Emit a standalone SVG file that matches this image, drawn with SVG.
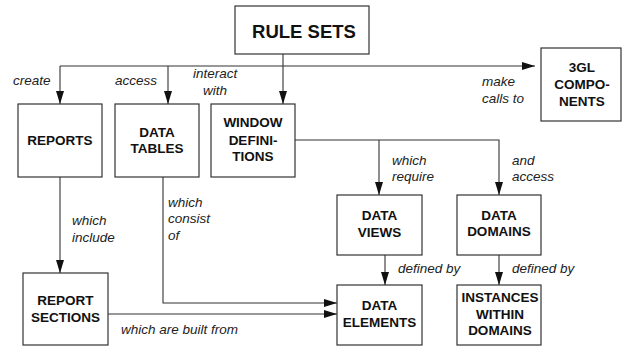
<svg xmlns="http://www.w3.org/2000/svg" width="622" height="348" viewBox="0 0 622 348">
  <defs>
    <marker id="arrow" viewBox="0 0 13 8" markerWidth="13" markerHeight="8" refX="13" refY="4" orient="auto" markerUnits="userSpaceOnUse">
      <path d="M0,0 L13,4 L0,8 z" fill="#111"/>
    </marker>
    <style>
      .box { fill: #fff; stroke: #333; stroke-width: 1.2; }
      .node { font-family: "Liberation Sans", Arial, sans-serif; font-weight: bold; font-size: 13.5px; fill: #111; text-anchor: middle; }
      .title { font-size: 18.5px; }
      .lbl { font-family: "Liberation Sans", Arial, sans-serif; font-style: italic; font-size: 13.5px; fill: #222; }
      .conn { fill: none; stroke: #333; stroke-width: 1.1; }
      .arr { marker-end: url(#arrow); }
    </style>
  </defs>
  <rect width="622" height="348" fill="#fff"/>

  <!-- connectors -->
  <g id="connectors">
    <path class="conn arr" d="M60,66 H535"/>
    <path class="conn arr" d="M60,66 V104"/>
    <path class="conn arr" d="M168,66 V104"/>
    <path class="conn arr" d="M283,54 V104"/>
    <path class="conn arr" d="M295,140 H499 V195"/>
    <path class="conn arr" d="M379,140 V195"/>
    <path class="conn arr" d="M385,255 V285"/>
    <path class="conn arr" d="M499,255 V285"/>
    <path class="conn arr" d="M60,177 V273"/>
    <path class="conn arr" d="M163,177 V303 H337"/>
    <path class="conn arr" d="M108,314 H337"/>
  </g>

  <!-- connector labels -->
  <g id="labels" class="lbl">
    <text x="13" y="85">create</text>
    <text x="115" y="85">access</text>
    <text x="193" y="78">interact</text>
    <text x="203" y="95">with</text>
    <text x="482" y="86">make</text>
    <text x="482" y="103">calls to</text>
    <text x="72" y="225">which</text>
    <text x="72" y="242">include</text>
    <text x="168" y="207">which</text>
    <text x="168" y="223">consist</text>
    <text x="168" y="240">of</text>
    <text x="392" y="165">which</text>
    <text x="392" y="181">require</text>
    <text x="512" y="165">and</text>
    <text x="512" y="181">access</text>
    <text x="398" y="273">defined by</text>
    <text x="512" y="273">defined by</text>
    <text x="121" y="334">which are built from</text>
  </g>

  <!-- nodes -->
  <g id="rule-sets">
    <rect class="box" x="235" y="6" width="134" height="48"/>
    <text class="node title" x="304" y="37.5">RULE SETS</text>
  </g>
  <g id="reports">
    <rect class="box" x="18" y="104" width="84" height="73"/>
    <text class="node" x="60" y="145">REPORTS</text>
  </g>
  <g id="data-tables">
    <rect class="box" x="115" y="104" width="84" height="73"/>
    <text class="node" x="157" y="137">DATA</text>
    <text class="node" x="157" y="153">TABLES</text>
  </g>
  <g id="window-definitions">
    <rect class="box" x="211" y="104" width="84" height="73"/>
    <text class="node" x="253" y="127">WINDOW</text>
    <text class="node" x="253" y="145">DEFINI-</text>
    <text class="node" x="253" y="161">TIONS</text>
  </g>
  <g id="3gl-components">
    <rect class="box" x="541" y="48" width="80" height="73"/>
    <text class="node" x="582" y="72">3GL</text>
    <text class="node" x="582" y="89">COMPO-</text>
    <text class="node" x="582" y="106">NENTS</text>
  </g>
  <g id="data-views">
    <rect class="box" x="337" y="195" width="85" height="60"/>
    <text class="node" x="379.5" y="220">DATA</text>
    <text class="node" x="379.5" y="237">VIEWS</text>
  </g>
  <g id="data-domains">
    <rect class="box" x="457" y="195" width="84" height="60"/>
    <text class="node" x="499" y="220">DATA</text>
    <text class="node" x="499" y="236">DOMAINS</text>
  </g>
  <g id="data-elements">
    <rect class="box" x="337" y="285" width="85" height="60"/>
    <text class="node" x="379.5" y="310">DATA</text>
    <text class="node" x="379.5" y="327">ELEMENTS</text>
  </g>
  <g id="instances-within-domains">
    <rect class="box" x="457" y="285" width="84" height="60"/>
    <text class="node" x="500" y="302">INSTANCES</text>
    <text class="node" x="500" y="319">WITHIN</text>
    <text class="node" x="500" y="335">DOMAINS</text>
  </g>
  <g id="report-sections">
    <rect class="box" x="23" y="273" width="85" height="72"/>
    <text class="node" x="65.5" y="305">REPORT</text>
    <text class="node" x="65.5" y="322">SECTIONS</text>
  </g>
</svg>
